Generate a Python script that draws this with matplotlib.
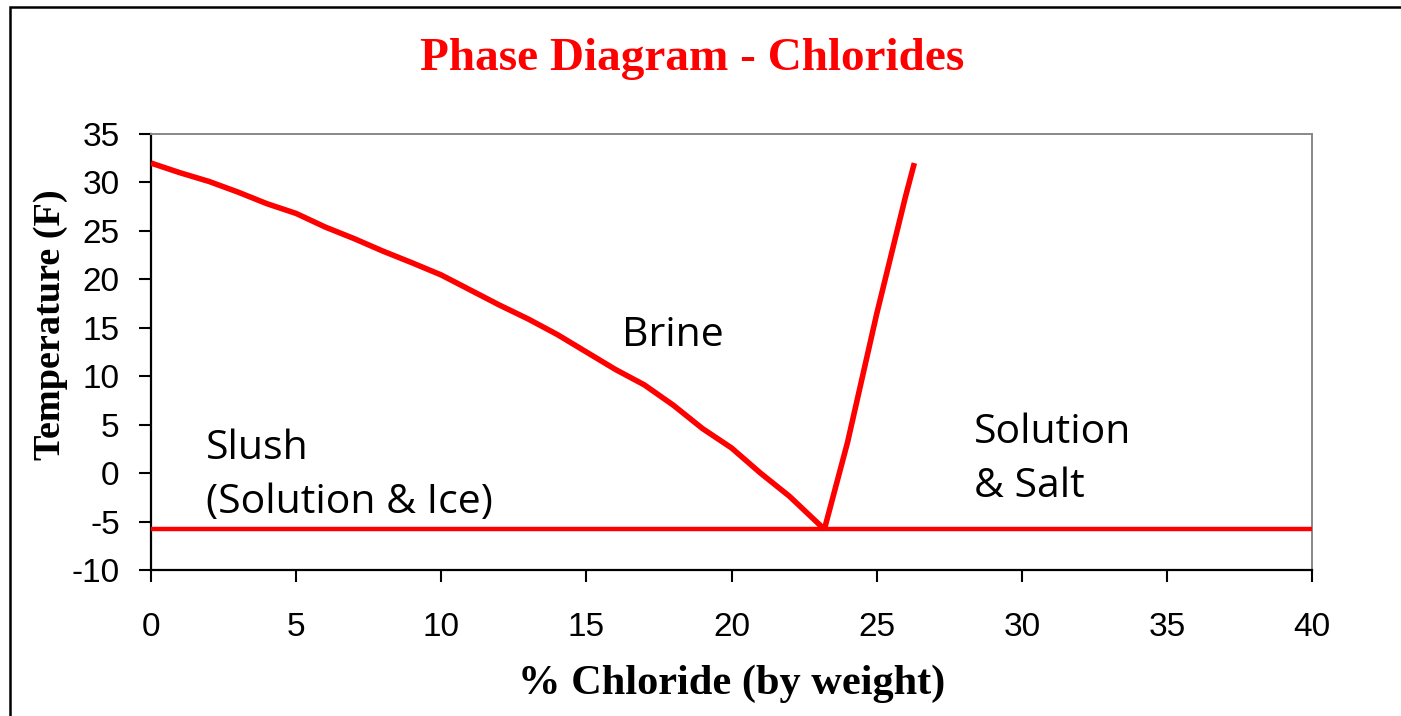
import matplotlib
matplotlib.use("Agg")
import matplotlib.pyplot as plt
from matplotlib.patches import Rectangle

# Liquidus (ice line) of the brine
pct_left = [0, 1, 2, 3, 4, 5, 6, 7, 8, 9, 10, 11, 12, 13, 14, 15, 16, 17, 18, 19, 20, 21, 22, 23.2]
temp_left = [32.0, 31.0, 30.1, 29.0, 27.8, 26.8, 25.4, 24.2, 22.9, 21.7, 20.45, 18.9, 17.35, 15.9,
             14.3, 12.5, 10.7, 9.1, 7.0, 4.6, 2.6, 0.0, -2.4, -5.8]
# Salt solubility line
pct_right = [23.2, 24, 25, 26, 26.3]
temp_right = [-5.8, 3.2, 16.4, 28.6, 32.0]
# Eutectic line
pct_eut = [0, 40]
temp_eut = [-5.8, -5.8]

xticks = [0, 5, 10, 15, 20, 25, 30, 35, 40]
yticks = [35, 30, 25, 20, 15, 10, 5, 0, -5, -10]

title = "Phase Diagram - Chlorides"
xlabel = "% Chloride (by weight)"
ylabel = "Temperature (F)"

region_labels = ["Brine", "Slush\n(Solution & Ice)", "Solution\n& Salt"]
region_pos = [(17.97, 14.2), (1.9, -0.3), (28.34, 1.4)]
region_ha = ["center", "left", "left"]

fig = plt.figure(figsize=(14.01, 7.16), dpi=100)
fig.patch.set_facecolor("white")

# outer frame (clipped at right and bottom as in reference)
fig.patches.append(Rectangle((9.5 / 1401, -0.05), 1.2, 1 - 7 / 716 + 0.05,
                             transform=fig.transFigure, fill=False,
                             edgecolor="black", linewidth=1.8))

ax = fig.add_axes([151 / 1401, 1 - 570 / 716, (1312 - 151) / 1401, (570 - 134) / 716])
red = "#ff0000"
ax.plot(pct_eut, temp_eut, color=red, linewidth=3.2, solid_capstyle="butt", zorder=3)
ax.plot(pct_left, temp_left, color=red, linewidth=4.0, solid_joinstyle="miter",
        solid_capstyle="butt", zorder=4)
ax.plot(pct_right, temp_right, color=red, linewidth=4.0, solid_capstyle="butt", zorder=4)

ax.set_xlim(0, 40)
ax.set_ylim(-10, 35)
ax.set_xticks(xticks)
ax.set_yticks(yticks)
ax.set_xticklabels([str(v) for v in xticks])
ax.set_yticklabels([str(v) for v in yticks])

for s in ["left", "bottom"]:
    ax.spines[s].set_color("black")
    ax.spines[s].set_linewidth(1.6)
for s in ["top", "right"]:
    ax.spines[s].set_color("#888888")
    ax.spines[s].set_linewidth(1.4)

ax.tick_params(axis="both", direction="out", length=8.5, width=1.5, color="black",
               labelsize=24, labelcolor="black")
ax.tick_params(axis="y", pad=14)
ax.tick_params(axis="x", pad=22)
for lab in ax.get_xticklabels() + ax.get_yticklabels():
    lab.set_fontfamily("Liberation Sans")

for txt, (x, y), ha in zip(region_labels, region_pos, region_ha):
    ax.text(x, y, txt, ha=ha, va="center", fontsize=29.5, family="Open Sans",
            color="black", linespacing=1.44)

fig.text(692 / 1401, 1 - 59 / 716, title, ha="center", va="center", color=red,
         fontsize=34, fontweight="bold", family="Liberation Serif")
fig.text(732 / 1401, 1 - 684 / 716, xlabel, ha="center", va="center", color="black",
         fontsize=30.5, fontweight="bold", family="Liberation Serif")
fig.text(50 / 1401, 1 - 325 / 716, ylabel, ha="center", va="center", color="black",
         fontsize=27.5, fontweight="bold", family="Liberation Serif", rotation=90)

fig.savefig("out.png", dpi=100, facecolor="white")
